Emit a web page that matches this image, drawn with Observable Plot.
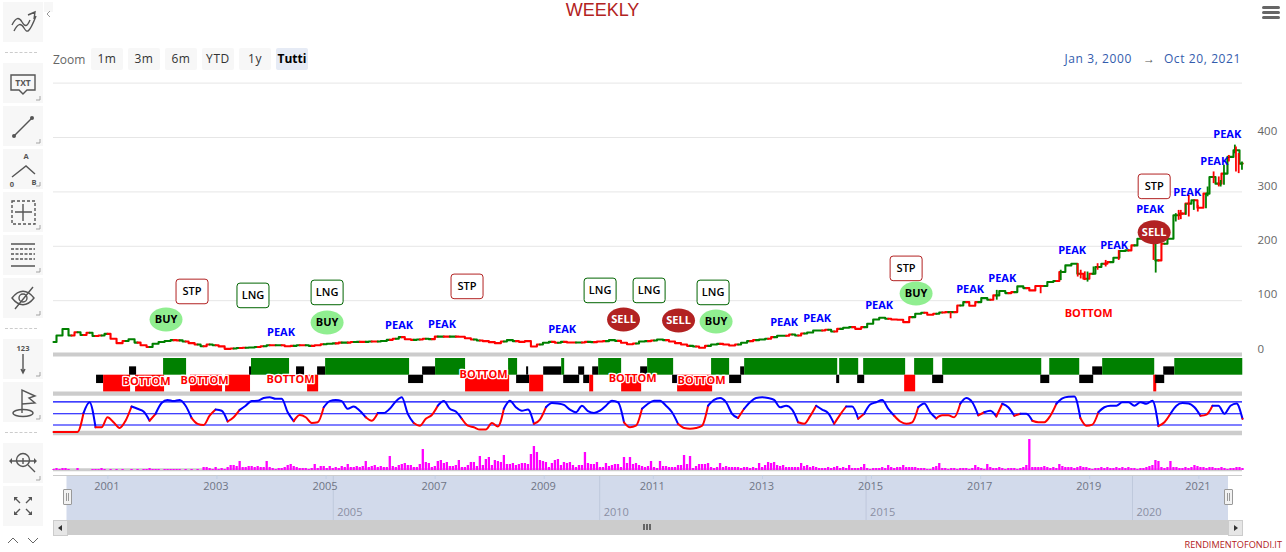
<!DOCTYPE html>
<html>
<head>
<meta charset="utf-8">
<script src="https://cdn.jsdelivr.net/npm/d3@7"></script>
<script src="https://cdn.jsdelivr.net/npm/@observablehq/plot@0.6"></script>
<style>
html,body{margin:0;padding:0;background:#fff;overflow:hidden}
body{font-family:"Open Sans",sans-serif}
#page{position:relative;width:1286px;height:552px;overflow:hidden}
#page svg.plotsvg,#page>figure{position:absolute;margin:0}
.abs{position:absolute}
.btn{position:absolute;top:48px;width:32px;height:22px;line-height:22px;background:#f7f7f7;text-align:center;font-size:12px;color:#333;border-radius:2px;letter-spacing:.6px}
.tool{position:absolute;left:3px;width:40px;height:40px;background:#f7f7f7}
.tool svg{position:absolute;left:0;top:0}
.sep{position:absolute;left:5px;width:32px;border-top:1px dashed #ccc}
</style>
</head>
<body>
<div id="page"></div>
<script>
// ---- Data ----
const startDate = new Date(Date.UTC(2000, 0, 3));
const endDate = new Date(Date.UTC(2021, 9, 20));

const priceValues = [24,36,48,36,42,37,41,35,36,39,30,22,26,29,23,18,15,21,24,26,27.5,27,25,22,19.5,16.4,19.5,18,16,11.5,12,13,13.4,14,15,16.4,18,18,18,16.4,17,18,18,17,18,20,21,21.5,23,23,24,24.4,24.4,25,25,26,28,30,33,29,28,28.7,30,
29.3,34,34,34,34,33.6,31,28.7,26.9,25.6,23.8,22,25,27.5,25.6,24.4,25.6,15.8,19.5,22.6,24.4,22.6,24.4,23.2,23.2,23.2,24.4,23.8,25,25.6,27.5,26.2,22.6,20,21.3,25,25.6,26.9,28.7,27.5,25,22,19.5,17,15.8,13.4,17,19.5,20.7,19.5,17.7,19.5,22.6,25.6,27.5,28.7,30,33,35.5,35.5,38,36,39.7,41.6,45.3,45.3,46.5,43.4,48.3,50.2,51.4,48.3,
51.4,57.6,65.5,68.6,66.8,65.5,64.9,60.6,69.8,76,77.8,74.1,76,78.4,79,79,91.3,97.4,90.7,97.4,104.8,101.7,109.7,117.7,114,115.8,126.3,123.2,118.9,126.9,126.9,134.3,136.1,152.7,164.9,168,149.6,140.4,149.6,161.9,168,171,179,191.3,192.5,201.7,214,220.1,220.1,174.1,204.8,214,257,260,278.4,284.6,271,296.8,327.5,315.2,333.6,364.3,376.6,352];
// colour of the candles at each sampled date: g = rising, r = falling
const priceTrend = ("gggrgrgrgr"+"rrggrrgggg"+"rgrrgrgrrr"+"grggrgrgrr"+"grgrrggrgr"+"grgrggrgrr"+"grg"+"rgrgrrr"+"grrrrggrrr"+"rggrgrrgrg"+"rrggrrrggr"+"ggrrrrgrrg"+"grrrggrggr"+"ggrgrgggrg"+"rggrr"+"ggggrrrrgg"+"rrgrgrgrrg"+"grggrggrrr"+"ggrgggrrgg"+"rgggrggggr"+"gggrgrrggr"+"gggr").split("");

const wickYears = [2016.45,2017.295,2018.10,2018.469,2018.78,2018.835,2018.91,2018.96,2019.07,2019.145,2019.293,2019.532,2020.17,2020.21,2020.577,2020.63,2020.669,2020.76,2020.815,2020.907,2020.98,2021.13,2021.16,2021.27,2021.365,2021.40,2021.46,2021.55,2021.66,2021.68,2021.73,2021.79];
const wickLow   = [66.8,101,112.8,137,143.5,140,137,134.2,147,156,162,174,174.1,150.8,244.7,247.8,249,257,253.9,266,263,269.2,291,315.2,309.1,309,312.2,355,370,336.7,333.6,339.8];
const wickHigh  = [79,119,128,156,168,156,153,152.7,162,168,174,192,204.8,174,260,266,266,278,293.8,284.6,275,296.8,309,336.7,327.5,321,349,367,386,382.7,370.5,355];
const wickTrend = ["r","g","r","g","r","r","r","g","g","r","r","r","r","g","g","r","r","g","r","g","r","g","g","r","r","g","g","r","g","r","r","g"];

const oscillatorValues = [3,3,3,3,3,52,80,15,15,41,28,13,32,69,63,56,32,50,78,86,83,86,71,39,24,21,45,61,58,30,41,60,71,83,84,91,93,89,89,54,31,47,41,26,28,67,83,86,83,63,69,58,41,32,52,52,63,82,93,50,26,19,37,
47,71,83,63,56,37,19,15,9,9,26,17,63,84,67,58,61,24,35,67,78,77,73,61,54,71,57,52,58,71,84,80,28,15,19,63,76,84,84,71,54,24,13,11,13,19,71,86,91,80,50,39,63,80,91,93,91,86,67,71,61,28,24,44,71,61,52,24,48,69,69,37,
50,74,80,86,63,45,30,24,28,67,77,54,38,46,46,41,76,91,80,46,54,58,43,76,67,45,50,50,32,28,28,45,76,90,94,95,39,19,22,54,67,71,71,80,80,71,80,76,84,18,28,50,71,78,77,67,45,48,71,71,50,71,77,37];
const oscillatorLevels = [21,50,81];

const volumeValues = [1,2,1,2,2,1,0,0,2,0,0,0,0,1,1,1,2,1,0,1,0,1,0,1,0,0,1,0,1,0,1,1,2,1,1,1,0,1,1,1,1,1,1,0,1,0,1,0,1,0,
3,3,2,1,3,1,2,1,3,5,5,4,9,3,3,4,4,3,4,3,3,9,3,2,1,2,2,3,5,6,4,3,2,2,2,1,2,6,2,4,4,2,4,2,3,2,4,3,6,3,
3,4,3,4,9,3,4,5,3,4,3,3,14,4,3,5,6,7,5,5,3,3,6,21,8,7,3,4,9,10,7,8,4,4,5,10,3,3,5,8,8,4,14,5,11,13,5,10,9,8,
15,6,6,7,5,6,7,7,6,16,24,18,10,9,8,3,7,10,11,5,8,7,8,5,3,5,5,18,7,6,6,8,3,3,7,4,5,6,6,3,13,7,13,6,7,5,4,3,4,9,
3,2,9,4,4,3,3,3,5,5,15,6,14,2,4,6,6,6,7,3,2,3,7,3,4,3,3,3,3,2,3,3,2,3,2,7,3,5,8,7,8,5,4,5,3,3,3,3,3,7,
4,5,3,4,3,2,2,2,3,2,3,4,2,3,2,5,2,2,2,3,6,2,1,2,2,2,3,2,5,3,2,3,3,5,3,3,3,3,2,2,2,1,1,3,4,7,2,2,1,2,
2,1,2,2,2,1,2,5,3,2,1,6,3,2,2,3,2,1,2,2,2,1,2,3,5,31,3,3,3,3,4,3,2,3,2,6,4,3,3,3,2,3,4,3,3,2,1,2,2,3,
2,3,2,2,3,2,3,2,3,2,2,1,2,2,3,4,5,10,9,3,2,3,9,3,3,2,2,3,2,3,5,4,3,3,2,3,3,2,2,3,2,1,2,2,3,3,2];

// signal state blocks: 2 long, 1 / -1 neutral, -2 short
const stateFrom  = [2000.793,2000.922,2001.508,2001.398,2002.022,2002.517,2003.159,2003.599,2003.635,2004.46,2004.662,2004.845,2004.992,2006.514,2006.771,2007.009,2007.559,2008.347,2008.494,2008.677,2008.732,2008.989,2009.319,2009.356,2009.631,2009.723,2009.833,2009.888,2009.998,2010.419,2010.768,2010.896,2011.354,2011.446,2012.069,2012.399,2012.601,2012.674,2014.361,2014.416,2014.746,2014.856,2015.608,2015.791,2016.121,2016.305,2018.102,2018.267,2018.817,2019.055,2019.238,2020.174,2020.21,2020.357,2020.559];
const stateTo    = [2000.922,2001.417,2002.04,2001.527,2002.444,2003.104,2003.617,2003.635,2004.332,2004.607,2004.864,2004.992,2006.532,2006.789,2007.009,2007.559,2008.366,2008.512,2008.732,2008.714,2008.989,2009.319,2009.374,2009.649,2009.741,2009.833,2009.906,2009.998,2010.419,2010.786,2010.896,2011.373,2011.446,2012.088,2012.399,2012.619,2012.674,2014.38,2014.416,2014.765,2014.875,2015.626,2015.81,2016.14,2016.323,2018.12,2018.267,2018.817,2019.073,2019.238,2020.192,2020.229,2020.375,2020.559,2021.805];
const stateLevel = [-1,-2,-2,1,2,-2,-2,1,2,1,-2,1,2,-1,1,2,-2,2,-1,1,-2,1,2,-1,1,-1,-2,1,2,-2,1,2,-1,-2,2,-1,1,2,-1,2,-1,2,-2,2,-1,2,-1,2,-1,1,2,-2,-1,1,2];

const boxLabel = ["STP","LNG","LNG","STP","LNG","LNG","LNG","STP","STP"];
const boxYear  = [2002.544,2003.662,2005.019,2007.586,2010.024,2010.923,2012.096,2015.635,2020.182];
const boxValue = [117,109.7,115.2,126.3,118.9,118.9,115.2,159.4,310.2];

const bubbleLabel = ["BUY","BUY","SELL","SELL","BUY","BUY","SELL"];
const bubbleYear  = [2002.067,2005.019,2010.454,2011.463,2012.151,2015.818,2020.182];
const bubbleValue = [65.5,60,65.5,63.7,61.8,113.4,225.7];

const peakYear  = [2004.175,2006.339,2007.127,2009.328,2013.398,2014.003,2015.14,2016.808,2017.395,2018.678,2019.448,2020.108,2020.787,2021.282,2021.52];
const peakValue = [41.6,54.5,56.3,47.1,60,67.4,91.3,120.8,141,192.5,201.7,268,299.3,356.3,406.2];

const bottomYear  = [2001.71,2002.774,2004.35,2007.889,2010.621,2011.886,2018.982];
const bottomValue = [-48.6,-46.8,-45,-35.7,-43,-46.8,76.6];

const priceTicks = [0,100,200,300,400];
const gridTicks = [100,200,300,400,500];
const navTickYears = [2001,2003,2005,2007,2009,2011,2013,2015,2017,2019,2021];
const navBandYears = [2005,2010,2015,2020];
const rangeButtons = ["1m","3m","6m","YTD","1y","Tutti"];

// ---- Helpers ----
const page = document.getElementById("page");
const yearDate = y => {
  const f = Math.floor(y), a = Date.UTC(f, 0, 1), b = Date.UTC(f + 1, 0, 1);
  return new Date(a + (y - f) * (b - a));
};
const sampleDate = (i, n) => new Date(+startDate + (i / (n - 1)) * (endDate - startDate));
const FONT = '"Open Sans", sans-serif';
const GREEN = "#008000", RED = "#ff0000", BLUE = "#0000ff", BAND = "#cccccc";

function place(svg, top) {
  svg.setAttribute("class", (svg.getAttribute("class") || "") + " plotsvg");
  svg.style.position = "absolute";
  svg.style.left = "0px";
  svg.style.top = top + "px";
  svg.style.background = "transparent";
  svg.style.maxWidth = "none";
  page.appendChild(svg);
}
const common = {
  width: 1286, marginLeft: 53, marginRight: 44, marginTop: 0, marginBottom: 0,
  x: {type: "utc", domain: [startDate, endDate], axis: null},
  style: {fontFamily: FONT, background: "transparent"}
};
const ellipse = (a, b) => ({draw(c) {
  const k = 0.5523;
  c.moveTo(-a, 0);
  c.bezierCurveTo(-a, -b * k, -a * k, -b, 0, -b);
  c.bezierCurveTo(a * k, -b, a, -b * k, a, 0);
  c.bezierCurveTo(a, b * k, a * k, b, 0, b);
  c.bezierCurveTo(-a * k, b, -a, b * k, -a, 0);
  c.closePath();
}});
const roundBox = (a, b, r) => ({draw(c) {
  c.moveTo(-a + r, -b);
  c.arcTo(a, -b, a, b, r);
  c.arcTo(a, b, -a, b, r);
  c.arcTo(-a, b, -a, -b, r);
  c.arcTo(-a, -b, a, -b, r);
  c.closePath();
}});

// ---- Series tables ----
const priceRows = priceValues.map((v, i) => ({date: sampleDate(i, priceValues.length), v, trend: priceTrend[i]}));
const wickRows = wickYears.map((y, i) => ({date: yearDate(y), low: wickLow[i], high: wickHigh[i], trend: wickTrend[i]}));
const oscRows = oscillatorValues.map((v, i) => ({date: sampleDate(i, oscillatorValues.length), v}));
const volRows = volumeValues.map((v, i) => ({date: sampleDate(i, volumeValues.length), v}));
const stateRows = stateFrom.map((f, i) => ({from: yearDate(f), to: yearDate(stateTo[i]), level: stateLevel[i]}));

// ---- Signal strip ----
place(Plot.plot({
  ...common, height: 50,
  y: {domain: [-2, 2], range: [41.4, 8], axis: null},
  color: {type: "ordinal", domain: [2, 1, -1, -2], range: [GREEN, "#000000", "#000000", RED]},
  marks: [
    Plot.ruleY([2.48, -2.2], {stroke: BAND, strokeWidth: 4.2}),
    Plot.rect(stateRows, {x1: "from", x2: "to", y1: 0, y2: "level", fill: "level"})
  ]
}), 350);

// ---- Oscillator ----
place(Plot.plot({
  ...common, height: 46,
  y: {domain: [0, 100], range: [42.55, 4.05], axis: null},
  color: {type: "ordinal", domain: ["high", "low"], range: [BLUE, RED]},
  marks: [
    Plot.ruleY([0], {stroke: BAND, strokeWidth: 4.6}),
    Plot.ruleY(oscillatorLevels, {stroke: BLUE, strokeWidth: 1.1}),
    Plot.line(oscRows, {x: "date", y: "v", z: null, stroke: d => d.v >= 50 ? "high" : "low", strokeWidth: 2, curve: "monotone-x"})
  ]
}), 390);

// ---- Volume ----
place(Plot.plot({
  ...common, height: 40,
  y: {domain: [0, 32], range: [35, 3], axis: null},
  marks: [
    Plot.ruleY([0.7], {stroke: BAND, strokeWidth: 3}),
    Plot.ruleX(volRows, {x: "date", y1: 0, y2: "v", stroke: "#ff00ff", strokeWidth: 2.3})
  ]
}), 435);

// ---- Navigator ----
const navPlotY = {domain: [0, 45], range: [2, 47], axis: null};
place(Plot.plot({
  width: 1286, height: 48, marginLeft: 66.5, marginRight: 58, marginTop: 0, marginBottom: 0,
  x: {type: "utc", domain: [startDate, endDate], axis: null},
  y: navPlotY,
  style: {fontFamily: FONT, background: "transparent"},
  marks: [
    Plot.rect([0], {x1: startDate, x2: endDate, y1: 0, y2: 45, fill: "#d2daeb"}),
    Plot.ruleX(navBandYears, {x: d => new Date(Date.UTC(d, 0, 1)), y1: 0, y2: 45, stroke: "#bfc9dc", strokeWidth: 1}),
    Plot.text(navBandYears, {x: d => new Date(Date.UTC(d, 0, 1)), y: 37, text: d => String(d), dx: 4, textAnchor: "start", fill: "#8a8fa3", fontSize: 11})
  ]
}), 473);
place(Plot.plot({
  ...common, height: 48,
  y: navPlotY,
  marks: [
    Plot.ruleY([0], {stroke: BAND, strokeWidth: 1}),
    Plot.ruleX(navTickYears, {x: d => new Date(Date.UTC(d, 0, 1)), y1: 0, y2: 4, stroke: "#c3cfe3", strokeWidth: 1}),
    Plot.text(navTickYears, {x: d => new Date(Date.UTC(d, 0, 1)), y: 10.5, dx: -1, text: d => String(d), fill: "#6f7585", fontSize: 11})
  ]
}), 473);

// ---- Main price panel with its annotations (on top) ----
const stp = "#b22222";
place(Plot.plot({
  ...common, height: 400,
  y: {domain: [0, 500], range: [354.6, 82.6], axis: null},
  color: {type: "ordinal", domain: ["g", "r"], range: [GREEN, RED]},
  marks: [
    Plot.ruleY(gridTicks, {stroke: "#e6e6e6", strokeWidth: 1}),
    Plot.axisY(priceTicks, {anchor: "right", tickSize: 0, tickPadding: 15, textAnchor: "start", dy: -6, label: null, fill: "#666666", fontSize: 11.5, tickFormat: d => String(d)}),
    Plot.line(priceRows, {x: "date", y: "v", z: null, stroke: "trend", strokeWidth: 2.1, curve: "step"}),
    Plot.ruleX(wickRows, {x: "date", y1: "low", y2: "high", stroke: "trend", strokeWidth: 1.8}),
    Plot.dot(boxLabel.map((t, i) => i), {x: i => yearDate(boxYear[i]), y: i => boxValue[i], r: 1, symbol: roundBox(16, 12.3, 3), fill: "#ffffff", stroke: i => boxLabel[i] === "STP" ? stp : "#006400", strokeWidth: 1}),
    Plot.text(boxLabel.map((t, i) => i), {x: i => yearDate(boxYear[i]), y: i => boxValue[i], text: i => boxLabel[i], fill: "#000000", fontSize: 11, fontWeight: 600}),
    Plot.dot(bubbleLabel.map((t, i) => i), {x: i => yearDate(bubbleYear[i]), y: i => bubbleValue[i], r: 1, symbol: ellipse(16.5, 12), fill: i => bubbleLabel[i] === "BUY" ? "#90ee90" : "#b22222", stroke: "none"}),
    Plot.text(bubbleLabel.map((t, i) => i), {x: i => yearDate(bubbleYear[i]), y: i => bubbleValue[i], text: i => bubbleLabel[i], fill: i => bubbleLabel[i] === "BUY" ? "#000000" : "#ffffff", fontSize: 11, fontWeight: "bold"}),
    Plot.text(peakYear.map((t, i) => i), {x: i => yearDate(peakYear[i]), y: i => peakValue[i], text: () => "PEAK", fill: BLUE, fontSize: 11, fontWeight: "bold"}),
    Plot.text(bottomYear.map((t, i) => i), {x: i => yearDate(bottomYear[i]), y: i => bottomValue[i], text: () => "BOTTOM", fill: RED, stroke: "#ffffff", strokeWidth: 2.5, fontSize: 11, fontWeight: "bold"})
  ]
}), 0);

// ---- Page chrome ----
function abs(tag, css, html) {
  const e = document.createElement(tag);
  e.className = "abs";
  e.style.cssText += css;
  if (html != null) e.innerHTML = html;
  page.appendChild(e);
  return e;
}
abs("div", "left:0;width:1205px;top:0;text-align:center;font-family:'Liberation Sans',sans-serif;font-size:18px;color:#b22222;line-height:21px", "WEEKLY");
abs("div", "left:53px;top:50px;font-size:12px;color:#666;line-height:20px", "Zoom");
rangeButtons.forEach((t, i) => {
  const b = document.createElement("div");
  b.className = "btn";
  b.style.left = (91 + 37 * i) + "px";
  b.textContent = t;
  if (t === "Tutti") { b.style.background = "#e6ebf5"; b.style.color = "#000"; b.style.fontWeight = "bold"; b.style.letterSpacing = "0"; }
  page.appendChild(b);
});
abs("div", "right:45px;top:49px;font-size:12px;color:#335cad;line-height:20px;white-space:pre;letter-spacing:.6px", "Jan 3, 2000<span style='color:#555;display:inline-block;margin:0 9px 0 11px;letter-spacing:0'>\u2192</span>Oct 20, 2021");
[7, 12, 17].forEach(y => abs("div", `left:1262px;top:${y-1}px;width:18px;height:3px;border-radius:2px;background:#666`));
abs("div", "right:4px;top:538px;font-size:9.2px;color:#b22222;line-height:14px", "RENDIMENTOFONDI.IT");

// scrollbar
abs("div", "left:53px;top:520px;width:1189px;height:15px;background:#cccccc");
abs("div", "left:53px;top:520px;width:13px;height:14px;background:#e6e6e6;border:.5px solid #ccc");
abs("div", "left:1228px;top:520px;width:13px;height:14px;background:#e6e6e6;border:.5px solid #ccc");
abs("div", "left:58px;top:525px;width:0;height:0;border:3px solid transparent;border-left:0;border-right:4px solid #333");
abs("div", "left:1234px;top:525px;width:0;height:0;border:3px solid transparent;border-right:0;border-left:4px solid #333");
[643, 646, 649].forEach(x => abs("div", `left:${x}px;top:524px;width:2px;height:6px;background:#666`));
[62.5, 1223.5].forEach(x => abs("div", `left:${x}px;top:489px;width:7px;height:14px;background:#f2f2f2;border:1px solid #999;border-radius:1px`,
  `<div style="position:absolute;left:2px;top:3px;width:1px;height:8px;background:#999"></div><div style="position:absolute;left:4px;top:3px;width:1px;height:8px;background:#999"></div>`));

// toolbar
const S = 'fill="none" stroke="#555" stroke-width="1.4"';
const T = 'font-family="Open Sans,sans-serif" font-weight="bold" fill="#555" text-anchor="middle"';
const corner = '<path d="M37 33v4h-4" fill="none" stroke="#999" stroke-width=".9"/>';
const tools = [
  [2, false, `<path ${S} d="M9 23c4-8 7-8 10-3s5 5 8-2M11 29c4-8 7-8 10-3s5 6 12-12M25 13l7-3-1 7" />`],
  [63, true, `<path ${S} stroke-width="1.6" d="M8 12h24v15H24l-4 4-4-4H8z"/><text x="20" y="23" font-size="8.5" ${T}>TXT</text>`],
  [106, true, `<path d="M11 30L29 12" stroke="#555" stroke-width="1.4"/><circle cx="11" cy="30" r="2" fill="#555"/><circle cx="29" cy="12" r="2" fill="#555"/>`],
  [149, true, `<text x="23" y="10" font-size="7.5" ${T}>A</text><path ${S} d="M9 28l14-11 9 8"/><text x="9" y="38" font-size="7.5" ${T}>0</text><text x="31" y="36" font-size="7.5" ${T}>B</text>`],
  [192, true, `<path ${S} stroke-dasharray="3 2" d="M9 9h23v23H9z"/><path ${S} d="M20 12v17M12 20h17"/>`],
  [235, true, `<path ${S} d="M8 9h24M8 31h24"/><path ${S} stroke-dasharray="3 1.5" d="M8 14h24M8 19h24M8 24h24"/>`],
  [278, true, `<path ${S} d="M9 20c7-9 15-9 22 0-7 9-15 9-22 0zM12 31L30 9"/><circle cx="20" cy="20" r="4" ${S}/>`],
  [339, true, `<text x="20" y="12" font-size="7.5" ${T}>123</text><path ${S} d="M20 15v18M18 30l2 4 2-4"/>`],
  [382, true, `<ellipse cx="20" cy="31" rx="10" ry="3.5" ${S}/><path ${S} d="M19 31V8l13 6-6 2 6 5-13 1"/>`],
  [443, true, `<circle cx="20" cy="17" r="6.5" ${S}/><path ${S} d="M25 22l7 7M7 18h26M20 15v6"/><path d="M9 15l-3 3 3 3zM31 15l3 3-3 3z" fill="#555"/>`],
  [486, false, `<path ${S} d="M12 12l5 5M28 12l-5 5M12 28l5-5M28 28l-5-5"/><path d="M11 11h4l-4 4zM29 11h-4l4 4zM11 29h4l-4-4zM29 29h-4l4-4z" fill="#555"/>`]
];
tools.forEach(([top, c, svg]) => {
  const d = document.createElement("div");
  d.className = "tool";
  d.style.top = top + "px";
  d.innerHTML = `<svg width="40" height="40" viewBox="0 0 40 40">${svg}${c ? corner : ""}</svg>`;
  page.appendChild(d);
});
[52, 328, 432].forEach(y => { const d = document.createElement("div"); d.className = "sep"; d.style.top = y + "px"; page.appendChild(d); });
abs("div", "left:44px;top:2px;width:9px;height:10px;background:#f7f7f7", `<svg width="9" height="10"><path d="M6 2L3 5l3 3" fill="none" stroke="#999"/></svg>`);
abs("div", "left:6px;top:529px;width:36px;height:10px", `<svg width="36" height="10"><path d="M2 7l5-5 5 5M22 2l5 5 5-5" fill="none" stroke="#666"/></svg>`);
</script>
</body>
</html>
